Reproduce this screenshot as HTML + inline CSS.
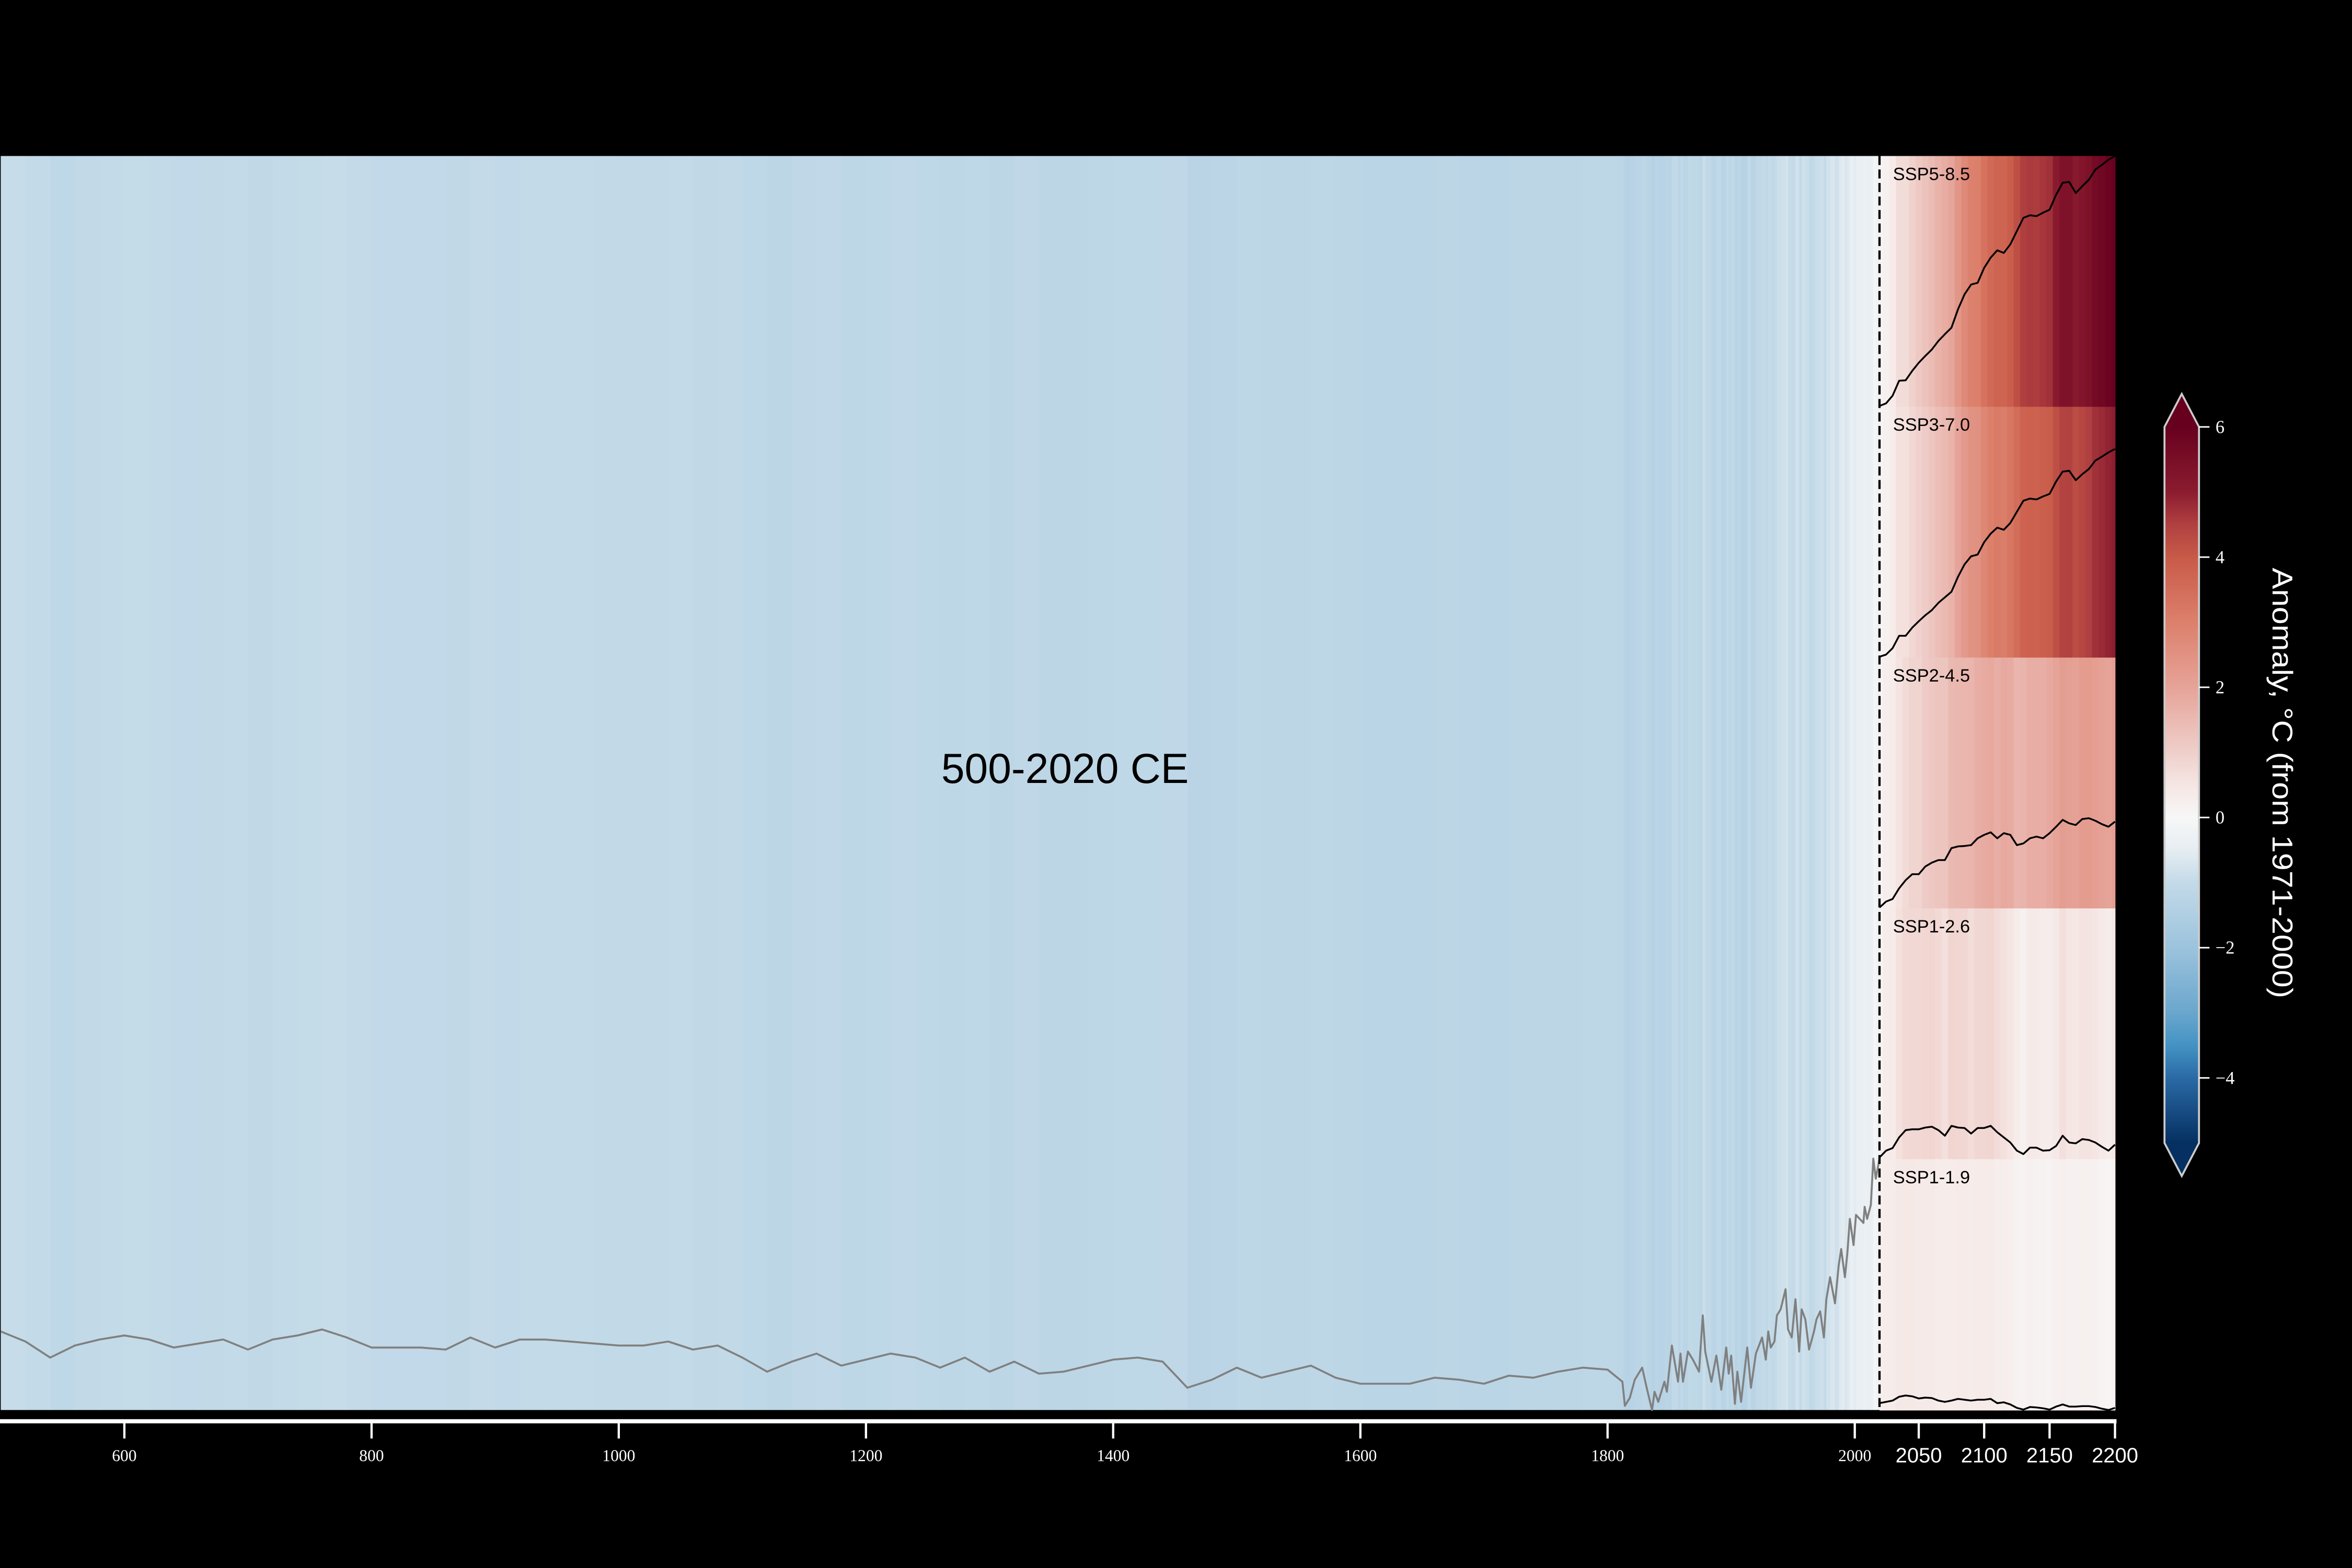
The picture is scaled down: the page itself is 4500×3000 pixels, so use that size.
<!DOCTYPE html>
<html><head><meta charset="utf-8"><title>Warming stripes 500-2200</title>
<style>html,body{margin:0;padding:0;background:#000;}svg{display:block;}</style></head>
<body>
<svg id="chart" xmlns="http://www.w3.org/2000/svg" width="4500" height="3000" viewBox="0 0 1568 1045.33">
<rect x="0" y="0" width="1568" height="1045.33" fill="#000"/>
<defs><linearGradient id="cbgrad" x1="0" y1="1" x2="0" y2="0"></linearGradient></defs>
<g id="hist"></g>
<g id="fut"></g>
<g id="overlay"></g>
<g id="axis"></g>
<g id="cbar"></g>
</svg>
<script>
// ---- data ----
const histYears = [500,520,540,560,580,600,620,640,660,680,700,720,740,760,780,800,820,840,860,880,900,920,940,960,980,1000,1020,1040,1060,1080,1100,1120,1140,1160,1180,1200,1220,1240,1260,1280,1300,1320,1340,1360,1380,1400,1420,1440,1460,1480,1500,1520,1540,1560,1580,1600,1620,1640,1660,1680,1700,1720,1740,1760,1780,1800,1808,1812,1814,1818,1822,1828,1832,1836,1838,1841,1846,1848,1852,1857,1859,1861,1865,1869,1874,1877,1879,1884,1888,1892,1896,1898,1900,1903,1905,1908,1913,1916,1920,1925,1928,1930,1932,1935,1937,1940,1944,1946,1949,1952,1955,1957,1960,1963,1967,1969,1972,1975,1977,1980,1984,1987,1989,1992,1994,1996,1999,2001,2007,2008,2010,2013,2015,2017,2020];
const histValues = [-0.96,-1.01,-1.09,-1.03,-1.00,-0.98,-1.00,-1.04,-1.02,-1.00,-1.05,-1.00,-0.98,-0.95,-0.99,-1.04,-1.04,-1.04,-1.05,-0.99,-1.04,-1.00,-1.00,-1.01,-1.02,-1.03,-1.03,-1.01,-1.05,-1.03,-1.09,-1.16,-1.11,-1.07,-1.13,-1.10,-1.07,-1.09,-1.14,-1.09,-1.16,-1.11,-1.17,-1.16,-1.13,-1.10,-1.09,-1.11,-1.24,-1.20,-1.14,-1.19,-1.16,-1.13,-1.19,-1.22,-1.22,-1.22,-1.19,-1.20,-1.22,-1.18,-1.19,-1.16,-1.14,-1.15,-1.19,-1.21,-1.33,-1.29,-1.20,-1.14,-1.25,-1.36,-1.26,-1.31,-1.21,-1.26,-1.03,-1.21,-1.07,-1.21,-1.06,-1.10,-1.16,-0.88,-1.06,-1.21,-1.08,-1.25,-1.04,-1.17,-1.08,-1.32,-1.16,-1.31,-1.04,-1.24,-1.07,-0.99,-1.10,-0.96,-1.04,-1.01,-0.88,-0.85,-0.75,-0.95,-0.99,-0.80,-1.06,-0.85,-0.90,-1.05,-0.96,-0.90,-0.86,-0.99,-0.80,-0.69,-0.82,-0.63,-0.55,-0.69,-0.57,-0.40,-0.53,-0.38,-0.42,-0.34,-0.40,-0.33,-0.10,-0.20,-0.10];
const futYears = [2020,2025,2030,2035,2040,2045,2050,2055,2060,2065,2070,2075,2080,2085,2090,2095,2100,2105,2110,2115,2120,2125,2130,2135,2140,2145,2150,2155,2160,2165,2170,2175,2180,2185,2190,2195,2200];
const scenarioNames = ["SSP5-8.5","SSP3-7.0","SSP2-4.5","SSP1-2.6","SSP1-1.9"];
const ssp585 = [0.12,0.18,0.36,0.71,0.72,0.94,1.13,1.29,1.44,1.64,1.80,1.95,2.38,2.73,2.96,3.00,3.35,3.59,3.76,3.70,3.90,4.21,4.52,4.58,4.56,4.64,4.71,5.06,5.34,5.36,5.10,5.26,5.41,5.65,5.76,5.88,5.98];
const ssp370 = [0.12,0.17,0.32,0.61,0.61,0.80,0.95,1.09,1.21,1.38,1.51,1.64,1.99,2.28,2.47,2.51,2.80,3.00,3.14,3.09,3.25,3.51,3.77,3.82,3.80,3.87,3.93,4.22,4.45,4.47,4.25,4.39,4.51,4.71,4.80,4.90,4.98];
const ssp245 = [0.12,0.26,0.32,0.57,0.76,0.90,0.90,1.08,1.17,1.23,1.23,1.51,1.55,1.56,1.58,1.74,1.82,1.88,1.74,1.86,1.82,1.58,1.62,1.74,1.78,1.74,1.86,2.01,2.17,2.09,2.05,2.19,2.21,2.15,2.07,2.01,2.13];
const ssp126 = [0.14,0.30,0.36,0.61,0.78,0.80,0.80,0.84,0.86,0.78,0.65,0.88,0.84,0.83,0.70,0.83,0.83,0.88,0.73,0.61,0.49,0.30,0.22,0.37,0.37,0.30,0.31,0.41,0.65,0.49,0.47,0.57,0.55,0.49,0.39,0.30,0.44];
const ssp119 = [0.26,0.29,0.32,0.41,0.44,0.42,0.37,0.39,0.38,0.32,0.29,0.32,0.36,0.34,0.32,0.34,0.34,0.36,0.26,0.28,0.23,0.15,0.11,0.17,0.16,0.14,0.11,0.18,0.23,0.18,0.18,0.19,0.19,0.17,0.13,0.10,0.15];
const mainTickYears = [600,800,1000,1200,1400,1600,1800,2000];
const futTickYears = [2050,2100,2150,2200];
const cbTicks = [6,4,2,0,-2,-4];
const cbTickLabels = ["6","4","2","0","\u22122","\u22124"];

// ---- colormap (styling) ----
const cmV = [-5,-4,-3.5,-3,-2,-1,-0.5,0,0.5,1,2,3,4,4.5,5,6];
const cmC = ["#053061","#2a6aa6","#4393c3","#6aa6cd","#9cc3dd","#c3dae8","#e6edf2","#f7f7f7","#f5e6e3","#efcfca","#e6a398","#dc806c","#c85a48","#b04040","#8b1c2f","#67001f"];
function hex(c){return [parseInt(c.substr(1,2),16),parseInt(c.substr(3,2),16),parseInt(c.substr(5,2),16)];}
function cmap(v){
  if(v<=cmV[0])return cmC[0];
  if(v>=cmV[cmV.length-1])return cmC[cmC.length-1];
  for(let i=0;i<cmV.length-1;i++){
    if(v>=cmV[i]&&v<=cmV[i+1]){
      const t=(v-cmV[i])/(cmV[i+1]-cmV[i]);const a=hex(cmC[i]),b=hex(cmC[i+1]);
      return "rgb("+a.map((x,k)=>Math.round(x+(b[k]-x)*t)).join(",")+")";
    }
  }
}
const NS="http://www.w3.org/2000/svg";
function el(tag,attrs,parent){const e=document.createElementNS(NS,tag);for(const k in attrs)e.setAttribute(k,attrs[k]);parent.appendChild(e);return e;}

// ---- scales ----
const PLOT_TOP=104, PLOT_BOT=940, X0=0.5, XDIV=1253, XEND=1410;
function histX(yr){return X0+(yr-500)*(XDIV-X0)/1520;}
function futX(yr){return XDIV+(yr-2020)*(XEND-XDIV)/180;}
function histLineY(v){return Math.min(PLOT_BOT,Math.max(PLOT_TOP,893-(v+1)*134));}
const PANEL_H=(PLOT_BOT-PLOT_TOP)/5;
function futLineY(bottom,v){return Math.min(bottom,Math.max(bottom-PANEL_H,bottom-(v-0.1)*28.5));}

// ---- historical stripes ----
const gH=document.getElementById('hist');
for(let i=0;i<histYears.length;i++){
  const x1=histX(histYears[i]);
  const x2=i<histYears.length-1?histX(histYears[i+1]):XDIV;
  if(x2<=x1)continue;
  const r=el('rect',{x:x1,y:PLOT_TOP,width:x2-x1+0.4,height:PLOT_BOT-PLOT_TOP,fill:cmap(histValues[i])},gH);
  
  
}
let hp="";
for(let i=0;i<histYears.length;i++){hp+=(i?"L":"M")+histX(histYears[i]).toFixed(2)+","+histLineY(histValues[i]).toFixed(2);}
const hl=el('path',{d:hp,fill:"none",stroke:"#808080","stroke-width":1.3,"stroke-linejoin":"round"},gH);



// ---- scenario panels ----
const gF=document.getElementById('fut');
const scenarios=[ssp585,ssp370,ssp245,ssp126,ssp119];
scenarios.forEach((vals,p)=>{
  const top=PLOT_TOP+p*PANEL_H, bottom=top+PANEL_H;
  const g=el('g',{},gF);
  
  
  for(let i=0;i<futYears.length;i++){
    const x1=futX(Math.max(2020,futYears[i]-2.5)), x2=futX(Math.min(2200,futYears[i]+2.5));
    const r=el('rect',{x:x1,y:top,width:x2-x1+0.3,height:PANEL_H+0.3,fill:cmap(vals[i])},g);
    
    
  }
  let d="";
  for(let i=0;i<futYears.length;i++){d+=(i?"L":"M")+futX(futYears[i]).toFixed(2)+","+futLineY(bottom,vals[i]).toFixed(2);}
  const l=el('path',{d:d,fill:"none",stroke:"#000","stroke-width":1.2,"stroke-linejoin":"round"},g);
  
  
  const t=el('text',{x:1262,y:top+16,"font-family":"Liberation Sans, sans-serif","font-size":12,fill:"#000"},g);
  t.textContent=scenarioNames[p];
  
  
});

// ---- overlay ----
const gO=document.getElementById('overlay');
const dl=el('line',{x1:XDIV,x2:XDIV,y1:PLOT_TOP,y2:PLOT_BOT,stroke:"#000","stroke-width":1.5,"stroke-dasharray":"6,3"},gO);


const ttl=el('text',{x:710,y:522,"text-anchor":"middle","font-family":"Liberation Sans, sans-serif","font-size":28,fill:"#000"},gO);
ttl.textContent="500-2020 CE";



// ---- axis ----
const gA=document.getElementById('axis');
const al=el('line',{x1:0,x2:XEND+1,y1:947.5,y2:947.5,stroke:"#fff","stroke-width":2.8},gA);


mainTickYears.forEach(yr=>{
  const x=histX(yr);
  const tk=el('line',{x1:x,x2:x,y1:947,y2:959,stroke:"#fff","stroke-width":1.5},gA);
  
  
  const t=el('text',{x:x,y:974,"text-anchor":"middle","font-family":"Liberation Serif, serif","font-size":11,fill:"#fff"},gA);
  t.textContent=String(yr);
  
  
});
futTickYears.forEach(yr=>{
  const x=futX(yr);
  const tk=el('line',{x1:x,x2:x,y1:947,y2:959,stroke:"#fff","stroke-width":1.5},gA);
  
  
  const t=el('text',{x:x,y:975,"text-anchor":"middle","font-family":"Liberation Sans, sans-serif","font-size":14,fill:"#fff",textLength:31,lengthAdjust:"spacingAndGlyphs"},gA);
  t.textContent=String(yr);
  
  
});

// ---- colorbar ----
const gC=document.getElementById('cbar');
function cbY(v){return 545-v*43.4;}
const grad=document.getElementById('cbgrad');
for(let i=0;i<cmV.length;i++){
  el('stop',{offset:((cmV[i]+5)/11).toFixed(4),"stop-color":cmC[i]},grad);
}
const cx1=1443,cx2=1466,cmx=(cx1+cx2)/2;
const body=el('rect',{x:cx1,y:cbY(6),width:cx2-cx1,height:cbY(-5)-cbY(6),fill:"url(#cbgrad)"},gC);


const tri1=el('polygon',{points:cx1+","+cbY(6)+" "+cmx+","+(cbY(6)-22)+" "+cx2+","+cbY(6),fill:cmC[cmC.length-1]},gC);


const tri2=el('polygon',{points:cx1+","+cbY(-5)+" "+cmx+","+(cbY(-5)+22)+" "+cx2+","+cbY(-5),fill:cmC[0]},gC);


const outline=el('polygon',{points:cx1+","+cbY(6)+" "+cmx+","+(cbY(6)-22)+" "+cx2+","+cbY(6)+" "+cx2+","+cbY(-5)+" "+cmx+","+(cbY(-5)+22)+" "+cx1+","+cbY(-5),fill:"none",stroke:"#cccccc","stroke-width":1.3},gC);


cbTicks.forEach((v,i)=>{
  const y=cbY(v);
  const tk=el('line',{x1:cx2,x2:cx2+7,y1:y,y2:y,stroke:"#fff","stroke-width":1},gC);
  
  
  const t=el('text',{x:cx2+11,y:y+4,"font-family":"Liberation Serif, serif","font-size":12,fill:"#fff"},gC);
  t.textContent=cbTickLabels[i];
  
  
});
const cl=el('text',{x:0,y:0,transform:"translate(1515,522) rotate(90)","text-anchor":"middle","font-family":"Liberation Sans, sans-serif","font-size":19,fill:"#fff",textLength:287,lengthAdjust:"spacingAndGlyphs"},gC);
cl.textContent="Anomaly, \u00B0C (from 1971-2000)";


</script>
</body></html>
